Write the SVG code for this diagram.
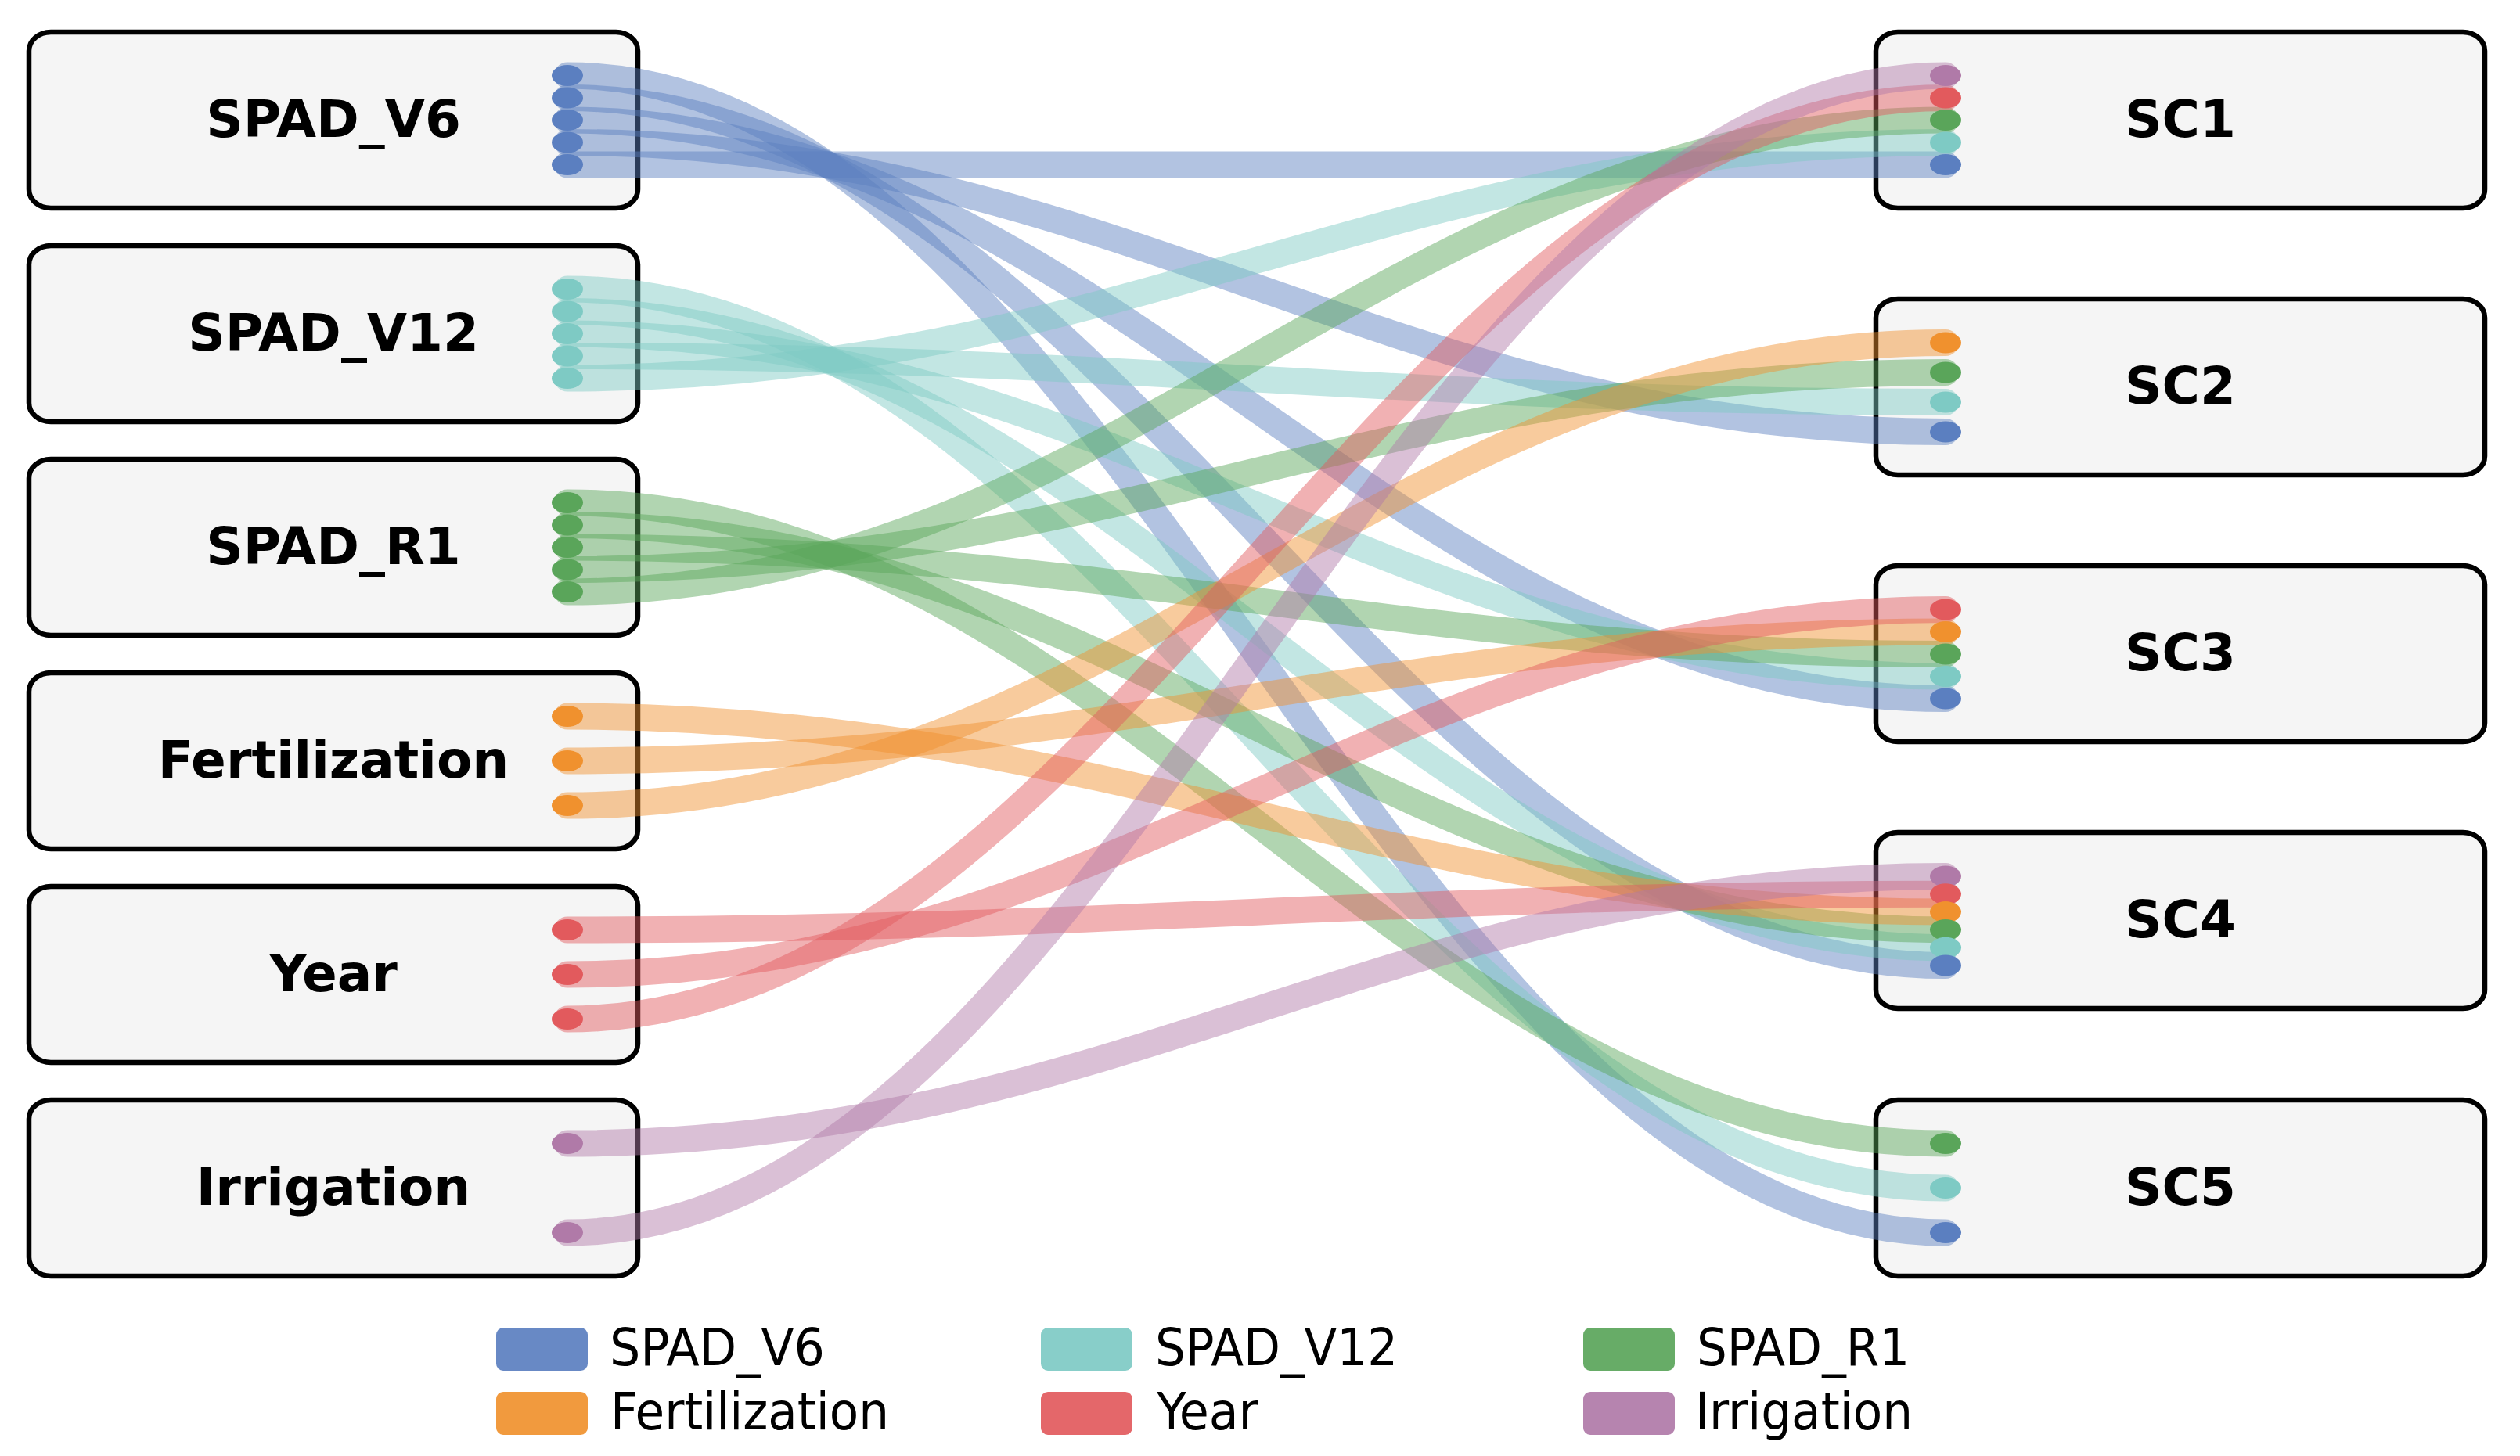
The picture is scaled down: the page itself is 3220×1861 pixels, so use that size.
<svg xmlns="http://www.w3.org/2000/svg" width="3220" height="1861" viewBox="0 0 3220 1861">
<style>
.box{fill:#f5f5f5;stroke:#000;stroke-width:6.5}
.lbl{font-family:"DejaVu Sans","Liberation Sans",sans-serif;font-weight:bold;font-size:66px;text-anchor:middle;fill:#000}
.leg{font-family:"DejaVu Sans Condensed","DejaVu Sans","Liberation Sans",sans-serif;font-stretch:condensed;font-size:66px;fill:#000}
.link{fill:none;stroke-width:34;stroke-linecap:round;stroke-opacity:0.47}
.v6{stroke:#5b7fc0}.v12{stroke:#7ecac4}.r1{stroke:#5aa55a}.fe{stroke:#f0912e}.yr{stroke:#e25a5d}.ir{stroke:#b07aa8}
.d-v6{fill:#5b7fc0}.d-v12{fill:#7ecac4}.d-r1{fill:#5aa55a}.d-fe{fill:#f0912e}.d-yr{fill:#e25a5d}.d-ir{fill:#b07aa8}
</style>
<rect width="3220" height="1861" fill="#fff"/>
<g id="node-SPAD_V6"><rect class="box" x="37" y="41" width="778" height="225" rx="28" ry="24"/><text class="lbl" x="426" y="175">SPAD_V6</text></g>
<g id="node-SPAD_V12"><rect class="box" x="37" y="314" width="778" height="225" rx="28" ry="24"/><text class="lbl" x="426" y="448">SPAD_V12</text></g>
<g id="node-SPAD_R1"><rect class="box" x="37" y="587" width="778" height="225" rx="28" ry="24"/><text class="lbl" x="426" y="721">SPAD_R1</text></g>
<g id="node-Fertilization"><rect class="box" x="37" y="860" width="778" height="225" rx="28" ry="24"/><text class="lbl" x="426" y="994">Fertilization</text></g>
<g id="node-Year"><rect class="box" x="37" y="1133" width="778" height="225" rx="28" ry="24"/><text class="lbl" x="426" y="1267">Year</text></g>
<g id="node-Irrigation"><rect class="box" x="37" y="1406" width="778" height="225" rx="28" ry="24"/><text class="lbl" x="426" y="1540">Irrigation</text></g>
<g id="node-SC1"><rect class="box" x="2397" y="41" width="778" height="225" rx="28" ry="24"/><text class="lbl" x="2786" y="175">SC1</text></g>
<g id="node-SC2"><rect class="box" x="2397" y="382" width="778" height="225" rx="28" ry="24"/><text class="lbl" x="2786" y="516">SC2</text></g>
<g id="node-SC3"><rect class="box" x="2397" y="723" width="778" height="225" rx="28" ry="24"/><text class="lbl" x="2786" y="857">SC3</text></g>
<g id="node-SC4"><rect class="box" x="2397" y="1064" width="778" height="225" rx="28" ry="24"/><text class="lbl" x="2786" y="1198">SC4</text></g>
<g id="node-SC5"><rect class="box" x="2397" y="1406" width="778" height="225" rx="28" ry="24"/><text class="lbl" x="2786" y="1540">SC5</text></g>
<g id="connectors">
<path class="link v6" d="M725,96.5 C1429,96.5 1782,1575.5 2486,1575.5"/>
<path class="link v6" d="M725,125 C1429,125 1782,1234 2486,1234"/>
<path class="link v6" d="M725,153.5 C1429,153.5 1782,893 2486,893"/>
<path class="link v6" d="M725,182 C1429,182 1782,552 2486,552"/>
<path class="link v6" d="M725,210.5 C1429,210.5 1782,210.5 2486,210.5"/>
<path class="link v12" d="M725,369.5 C1429,369.5 1782,1518.5 2486,1518.5"/>
<path class="link v12" d="M725,398 C1429,398 1782,1211.2 2486,1211.2"/>
<path class="link v12" d="M725,426.5 C1429,426.5 1782,864.5 2486,864.5"/>
<path class="link v12" d="M725,455 C1429,455 1782,514 2486,514"/>
<path class="link v12" d="M725,483.5 C1429,483.5 1782,182 2486,182"/>
<path class="link r1" d="M725,642.5 C1429,642.5 1782,1461.5 2486,1461.5"/>
<path class="link r1" d="M725,671 C1429,671 1782,1188.4 2486,1188.4"/>
<path class="link r1" d="M725,699.5 C1429,699.5 1782,836 2486,836"/>
<path class="link r1" d="M725,728 C1429,728 1782,476 2486,476"/>
<path class="link r1" d="M725,756.5 C1429,756.5 1782,153.5 2486,153.5"/>
<path class="link fe" d="M725,915.5 C1429,915.5 1782,1165.6 2486,1165.6"/>
<path class="link fe" d="M725,972.5 C1429,972.5 1782,807.5 2486,807.5"/>
<path class="link fe" d="M725,1029.5 C1429,1029.5 1782,438 2486,438"/>
<path class="link yr" d="M725,1188.5 C1429,1188.5 1782,1142.8 2486,1142.8"/>
<path class="link yr" d="M725,1245.5 C1429,1245.5 1782,779 2486,779"/>
<path class="link yr" d="M725,1302.5 C1429,1302.5 1782,125 2486,125"/>
<path class="link ir" d="M725,1461.5 C1429,1461.5 1782,1120 2486,1120"/>
<path class="link ir" d="M725,1575.5 C1429,1575.5 1782,96.5 2486,96.5"/>
</g>
<g id="ports">
<ellipse class="d-v6" cx="725" cy="96.5" rx="20" ry="13.5"/><ellipse class="d-v6" cx="725" cy="125" rx="20" ry="13.5"/><ellipse class="d-v6" cx="725" cy="153.5" rx="20" ry="13.5"/><ellipse class="d-v6" cx="725" cy="182" rx="20" ry="13.5"/><ellipse class="d-v6" cx="725" cy="210.5" rx="20" ry="13.5"/>
<ellipse class="d-v12" cx="725" cy="369.5" rx="20" ry="13.5"/><ellipse class="d-v12" cx="725" cy="398" rx="20" ry="13.5"/><ellipse class="d-v12" cx="725" cy="426.5" rx="20" ry="13.5"/><ellipse class="d-v12" cx="725" cy="455" rx="20" ry="13.5"/><ellipse class="d-v12" cx="725" cy="483.5" rx="20" ry="13.5"/>
<ellipse class="d-r1" cx="725" cy="642.5" rx="20" ry="13.5"/><ellipse class="d-r1" cx="725" cy="671" rx="20" ry="13.5"/><ellipse class="d-r1" cx="725" cy="699.5" rx="20" ry="13.5"/><ellipse class="d-r1" cx="725" cy="728" rx="20" ry="13.5"/><ellipse class="d-r1" cx="725" cy="756.5" rx="20" ry="13.5"/>
<ellipse class="d-fe" cx="725" cy="915.5" rx="20" ry="13.5"/><ellipse class="d-fe" cx="725" cy="972.5" rx="20" ry="13.5"/><ellipse class="d-fe" cx="725" cy="1029.5" rx="20" ry="13.5"/>
<ellipse class="d-yr" cx="725" cy="1188.5" rx="20" ry="13.5"/><ellipse class="d-yr" cx="725" cy="1245.5" rx="20" ry="13.5"/><ellipse class="d-yr" cx="725" cy="1302.5" rx="20" ry="13.5"/>
<ellipse class="d-ir" cx="725" cy="1461.5" rx="20" ry="13.5"/><ellipse class="d-ir" cx="725" cy="1575.5" rx="20" ry="13.5"/>
<ellipse class="d-ir" cx="2486" cy="96.5" rx="20" ry="13.5"/><ellipse class="d-yr" cx="2486" cy="125" rx="20" ry="13.5"/><ellipse class="d-r1" cx="2486" cy="153.5" rx="20" ry="13.5"/><ellipse class="d-v12" cx="2486" cy="182" rx="20" ry="13.5"/><ellipse class="d-v6" cx="2486" cy="210.5" rx="20" ry="13.5"/>
<ellipse class="d-fe" cx="2486" cy="438" rx="20" ry="13.5"/><ellipse class="d-r1" cx="2486" cy="476" rx="20" ry="13.5"/><ellipse class="d-v12" cx="2486" cy="514" rx="20" ry="13.5"/><ellipse class="d-v6" cx="2486" cy="552" rx="20" ry="13.5"/>
<ellipse class="d-yr" cx="2486" cy="779" rx="20" ry="13.5"/><ellipse class="d-fe" cx="2486" cy="807.5" rx="20" ry="13.5"/><ellipse class="d-r1" cx="2486" cy="836" rx="20" ry="13.5"/><ellipse class="d-v12" cx="2486" cy="864.5" rx="20" ry="13.5"/><ellipse class="d-v6" cx="2486" cy="893" rx="20" ry="13.5"/>
<ellipse class="d-ir" cx="2486" cy="1120" rx="20" ry="13.5"/><ellipse class="d-yr" cx="2486" cy="1142.8" rx="20" ry="13.5"/><ellipse class="d-fe" cx="2486" cy="1165.6" rx="20" ry="13.5"/><ellipse class="d-r1" cx="2486" cy="1188.4" rx="20" ry="13.5"/><ellipse class="d-v12" cx="2486" cy="1211.2" rx="20" ry="13.5"/><ellipse class="d-v6" cx="2486" cy="1234" rx="20" ry="13.5"/>
<ellipse class="d-r1" cx="2486" cy="1461.5" rx="20" ry="13.5"/><ellipse class="d-v12" cx="2486" cy="1518.5" rx="20" ry="13.5"/><ellipse class="d-v6" cx="2486" cy="1575.5" rx="20" ry="13.5"/>
</g>
<g id="legend">
<rect x="634" y="1697" width="117" height="55" rx="9" fill="#5b7fc0" fill-opacity="0.92"/>
<text class="leg" x="779" y="1745" textLength="275" lengthAdjust="spacingAndGlyphs">SPAD_V6</text>
<rect x="634" y="1779" width="117" height="55" rx="9" fill="#f0912e" fill-opacity="0.92"/>
<text class="leg" x="780" y="1827" textLength="356" lengthAdjust="spacingAndGlyphs">Fertilization</text>
<rect x="1330" y="1697" width="117" height="55" rx="9" fill="#7ecac4" fill-opacity="0.92"/>
<text class="leg" x="1476" y="1745" textLength="310" lengthAdjust="spacingAndGlyphs">SPAD_V12</text>
<rect x="1330" y="1779" width="117" height="55" rx="9" fill="#e25a5d" fill-opacity="0.92"/>
<text class="leg" x="1478" y="1827" textLength="130" lengthAdjust="spacingAndGlyphs">Year</text>
<rect x="2023" y="1697" width="117" height="55" rx="9" fill="#5aa55a" fill-opacity="0.92"/>
<text class="leg" x="2168" y="1745" textLength="272" lengthAdjust="spacingAndGlyphs">SPAD_R1</text>
<rect x="2023" y="1779" width="117" height="55" rx="9" fill="#b07aa8" fill-opacity="0.92"/>
<text class="leg" x="2166" y="1827" textLength="278" lengthAdjust="spacingAndGlyphs">Irrigation</text>
</g>
</svg>
